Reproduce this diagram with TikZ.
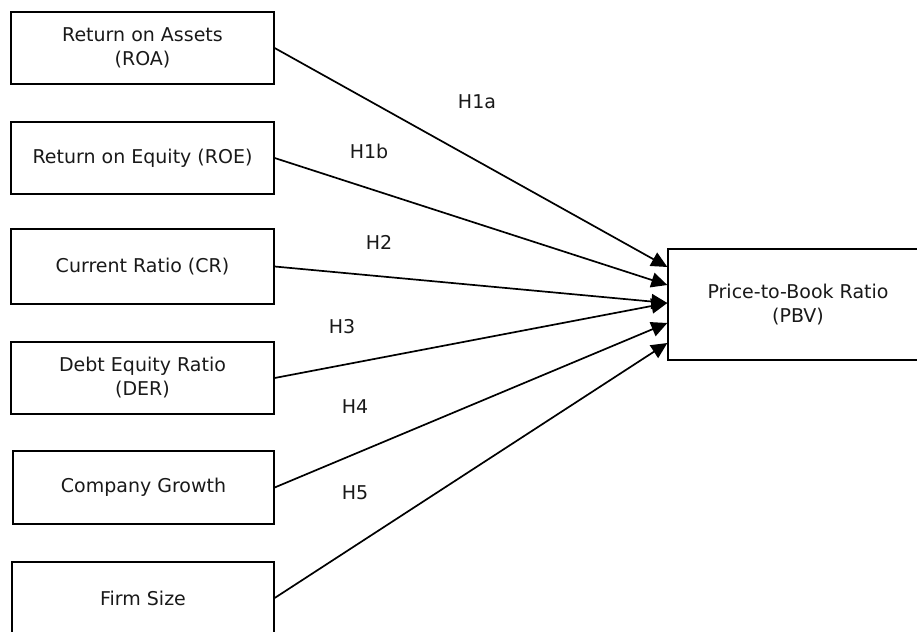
\documentclass[tikz,border=0pt]{standalone}
\usepackage{fontspec}
\setmainfont{DejaVu Sans}
\usepackage{tikz}
\usetikzlibrary{arrows.meta}
\tikzstyle{var} = [draw, line width=1.3pt, minimum width=263pt, minimum height=72pt, inner sep=0pt, align=center]
\tikzstyle{hyp} = [inner sep=0pt]
\tikzstyle{link} = [line width=1.7pt, -{Triangle[length=16pt,width=15pt]}]

\begin{document}
\begin{tikzpicture}[x=1pt, y=-1pt, font=\fontsize{19}{24}\selectfont, text=black!90]
	\clip (0,0) rectangle (917,631);
	\node[var] (roa) at (142.5,48) {Return on Assets\\(ROA)};
	\node[var] (roe) at (142.5,158) {Return on Equity (ROE)};
	\node[var, minimum height=75pt] (cr) at (142.5,266.5) {Current Ratio (CR)};
	\node[var] (der) at (142.5,378) {Debt Equity Ratio\\(DER)};
	\node[var, minimum width=261pt, minimum height=73pt] (growth) at (143.5,487.5) {Company Growth};
	\node[var, minimum width=262pt] (size) at (143,598) {Firm Size};
	\node[var, minimum width=260pt, minimum height=111pt] (pbv) at (798,304.5) {Price-to-Book Ratio\\(PBV)};

	\node[hyp] (h1a) at (477,102) {H1a};
	\node[hyp] (h1b) at (369,151) {H1b};
	\node[hyp] (h2) at (379,242) {H2};
	\node[hyp] (h3) at (342,327) {H3};
	\node[hyp] (h4) at (355,407) {H4};
	\node[hyp] (h5) at (355,493) {H5};

	\draw[link] (roa.east) -- ([yshift=37.5pt]pbv.west);
	\draw[link] (roe.east) -- ([yshift=19.5pt]pbv.west);
	\draw[link] (cr.east) -- ([yshift=1.5pt]pbv.west);
	\draw[link] (der.east) -- ([yshift=1.5pt]pbv.west);
	\draw[link] (growth.east) -- ([yshift=-18.5pt]pbv.west);
	\draw[link] (size.east) -- ([yshift=-38.5pt]pbv.west);
\end{tikzpicture}
\end{document}
